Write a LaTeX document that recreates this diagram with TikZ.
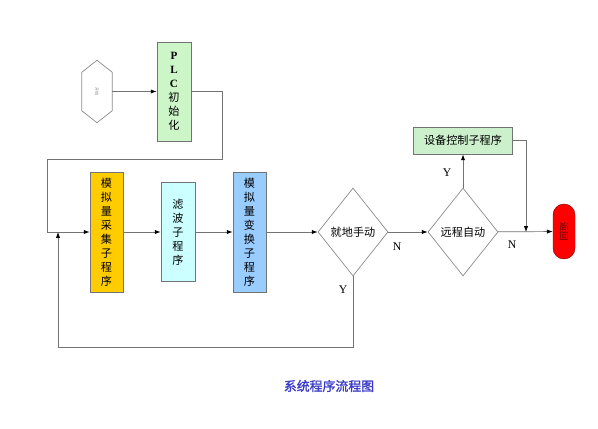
\documentclass[tikz,border=0pt]{standalone}
\usepackage{fontspec}
\setmainfont{Liberation Serif}
\newfontfamily\cjk{Noto Sans CJK SC}
\newfontfamily\cjkbold[FakeBold=1.5]{Noto Sans CJK SC}
\usetikzlibrary{arrows.meta, shapes.geometric, calc}
\definecolor{plcgreen}{HTML}{CCF5C8}
\definecolor{collect}{HTML}{FFCC00}
\definecolor{filter}{HTML}{CCFFFF}
\definecolor{convert}{HTML}{99CCFF}
\definecolor{ctrlgreen}{HTML}{CCF0CC}
\definecolor{titleblue}{HTML}{3C3CC8}
\tikzset{
  flow/.style={draw=black!55, line width=0.6pt, -{Latex[black, length=5pt, width=3.6pt]}},
  subprog/.style={draw=black!55, line width=0.6pt, inner sep=0pt, align=center,
    font=\cjk\fontsize{9.5}{12}\selectfont},
  decide/.style={diamond, draw=black!45, line width=0.6pt, inner sep=0pt, aspect=0.8,
    minimum width=2.1cm, minimum height=2.64cm, font=\cjk\fontsize{9.5}{11}\selectfont},
  yn/.style={font=\fontsize{10}{12}\selectfont}
}
\begin{document}
\begin{tikzpicture}[x=0.03cm, y=-0.03cm]
\useasboundingbox (0,0) rectangle (598,429);
\fill[white] (0,0) rectangle (598,429);
% start and init
\node[minimum width=0.9cm, minimum height=1.86cm, inner sep=0pt] (start) at (97,91.5)
  {\textcolor{black!45}{\cjk\fontsize{3.5}{4}\selectfont\rotatebox{-90}{开始}}};
\draw[draw=black!45, line width=0.6pt] (start.north) -- ($(start.north east)+(0,12)$)
  -- ($(start.south east)+(0,-12)$) -- (start.south) -- ($(start.south west)+(0,-12)$)
  -- ($(start.north west)+(0,12)$) -- cycle;
\node[subprog, fill=plcgreen, minimum width=1.02cm, minimum height=2.97cm] (plc) at (174,91.5)
  {{\rmfamily\bfseries P}\\{\rmfamily\bfseries L}\\{\rmfamily\bfseries C}\\初\\始\\化};
% sub programs
\node[subprog, fill=collect, minimum width=0.99cm, minimum height=3.6cm] (collect) at (106.5,232)
  {模\\拟\\量\\采\\集\\子\\程\\序};
\node[subprog, fill=filter, minimum width=1.02cm, minimum height=2.97cm] (filter) at (178,232)
  {滤\\波\\子\\程\\序};
\node[subprog, fill=convert, minimum width=0.99cm, minimum height=3.6cm] (convert) at (249.5,232)
  {模\\拟\\量\\变\\换\\子\\程\\序};
% decisions
\node[decide] (local) at (353,232) {就地手动};
\node[decide] (remote) at (463,232) {远程自动};
\node[subprog, fill=ctrlgreen, minimum width=2.97cm, minimum height=0.81cm] (device) at (463,140.5)
  {设备控制子程序};
\node[draw=red!55!black, fill=red, rounded corners=0.33cm, minimum width=0.66cm,
  minimum height=1.65cm, inner sep=0pt] (back) at (564,231.5)
  {\textcolor{red!35!black}{\cjk\fontsize{8}{9}\selectfont\rotatebox{-90}{返回}}};
%
\coordinate (up1) at (222,159);
\coordinate (up2) at (47,159);
\coordinate (low) at (58,347);
\coordinate (join) at (526,232);
\draw[flow] (start.east) -- (plc.west);
\draw[flow] (plc.east) -| (up1) -- (up2) |- (collect.west);
\draw[flow] (collect) -- (filter);
\draw[flow] (filter) -- (convert);
\draw[flow] (convert) -- (local);
\draw[flow] (local) -- (remote);
\draw[flow] (remote) -- (back);
\draw[flow] (remote.north) -- (device.south);
\draw[flow] (device.east) -| (join);
\draw[flow] (local.south) |- (low) -- (low |- local);
% labels
\node[yn] (n1) at (397,247) {N};
\node[yn] (n2) at (512,245) {N};
\node[yn] (y1) at (343,290) {Y};
\node[yn] (y2) at (447,173) {Y};
\node[text=titleblue, font=\cjkbold\fontsize{11}{13}\selectfont] (title) at (329,386) {系统程序流程图};
\end{tikzpicture}
\end{document}
